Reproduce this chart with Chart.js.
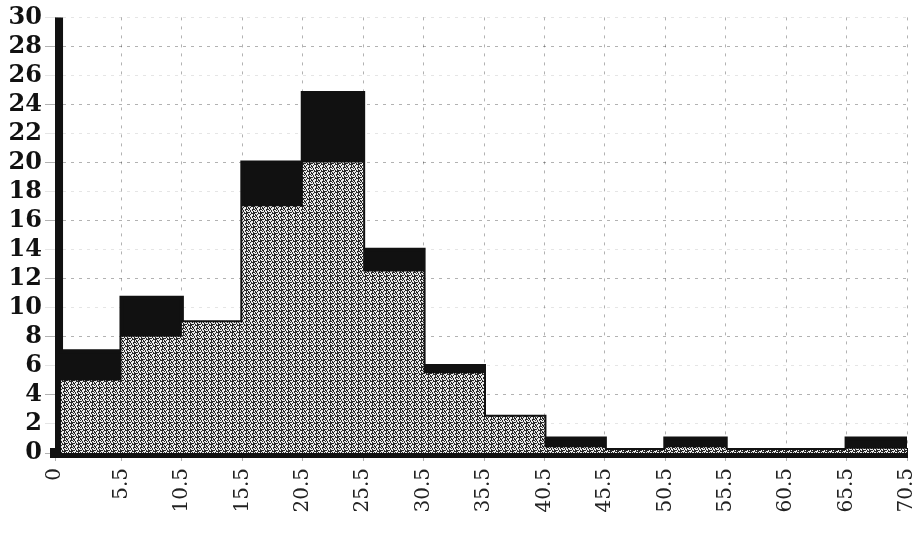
<!DOCTYPE html>
<html>
<head>
<meta charset="utf-8">
<script src="https://cdn.jsdelivr.net/npm/chart.js@4/dist/chart.umd.min.js"></script>
<style>
  html, body { margin: 0; padding: 0; background: #fff; }
  #wrap { width: 916px; height: 541px; }
</style>
</head>
<body>
<div id="wrap"><canvas id="histChart"></canvas></div>
<script>
// class edges of the histogram (x axis)
const binEdges = [0, 0.5, 5.5, 10.5, 15.5, 20.5, 25.5, 30.5, 35.5, 40.5, 45.5, 50.5, 55.5, 60.5, 65.5, 70.5];

// counts per class, black histogram
const darkCounts = [30, 7, 10.7, 9, 20, 24.8, 14, 6, 2.5, 1, 0, 1, 0, 0, 1];

// counts per class, stippled histogram drawn over it
const greyCounts = [0, 5, 8, 9, 17, 20, 12.5, 5.5, 2.5, 0.4, 0.2, 0.4, 0.2, 0.2, 0.3];

// tick labels
const xTickValues = [0, 5.5, 10.5, 15.5, 20.5, 25.5, 30.5, 35.5, 40.5, 45.5, 50.5, 55.5, 60.5, 65.5, 70.5];
const xTickLabels = ["0", "5.5", "10.5", "15.5", "20.5", "25.5", "30.5", "35.5", "40.5", "45.5", "50.5", "55.5", "60.5", "65.5", "70.5"];
const yTickValues = [0, 2, 4, 6, 8, 10, 12, 14, 16, 18, 20, 22, 24, 26, 28, 30];

// turn class counts into points for a stepped area
function stepPoints(counts) {
  const pts = [{ x: binEdges[0], y: 0 }];
  counts.forEach((c, i) => pts.push({ x: binEdges[i], y: c }));
  const last = binEdges[binEdges.length - 1];
  pts.push({ x: last, y: counts[counts.length - 1] });
  pts.push({ x: last, y: 0 });
  return pts;
}

// printed stipple texture (fixed dither, no randomness)
function stipple() {
  const c = document.createElement("canvas");
  c.width = 7; c.height = 7;
  const g = c.getContext("2d");
  const img = g.createImageData(7, 7);
  for (let j = 0; j < 7; j++) {
    for (let i = 0; i < 7; i++) {
      const dark = ((i * 3 + j * 5 + ((i * j) % 4)) % 7) < 3;
      const v = dark ? 40 : 235;
      const k = (j * 7 + i) * 4;
      img.data[k] = v; img.data[k + 1] = v; img.data[k + 2] = v; img.data[k + 3] = 255;
    }
  }
  g.putImageData(img, 0, 0);
  return g.createPattern(c, "repeat");
}

const serif = "'DejaVu Serif', 'Liberation Serif', serif";

const config = {
  type: "line",
  data: {
    datasets: [
      {
        label: "stippled",
        data: stepPoints(greyCounts),
        stepped: true,
        fill: "origin",
        backgroundColor: stipple(),
        borderColor: "rgba(0,0,0,0)",
        borderWidth: 0,
        pointRadius: 0,
        order: 0,
      },
      {
        label: "black",
        data: stepPoints(darkCounts),
        stepped: true,
        fill: "origin",
        backgroundColor: "#111",
        borderColor: "#111",
        borderWidth: 4,
        pointRadius: 0,
        order: 1,
      },
    ],
  },
  options: {
    responsive: true,
    maintainAspectRatio: false,
    animation: false,
    layout: { padding: { top: 0, right: 9, bottom: 0, left: 0 } },
    plugins: {
      legend: { display: false },
      tooltip: { enabled: false },
    },
    scales: {
      x: {
        type: "linear",
        min: 0,
        max: 70.5,
        afterBuildTicks: (scale) => {
          scale.ticks = xTickValues.map((v) => ({ value: v }));
        },
        afterFit: (scale) => {
          scale.height = 88;
          scale.paddingRight = 0; // let the last class reach the right edge
        },
        ticks: {
          autoSkip: false,
          minRotation: 90,
          maxRotation: 90,
          padding: 7,
          color: "#222",
          font: { family: serif, size: 20 },
          callback: (v) => xTickLabels[xTickValues.indexOf(v)],
        },
        grid: {
          color: "rgba(0,0,0,0.3)",
          lineWidth: 1,
          tickLength: 8,
        },
        border: { display: true, color: "#111", width: 10, dash: [3, 6] },
      },
      y: {
        min: 0,
        max: 30,
        afterBuildTicks: (scale) => {
          scale.ticks = yTickValues.map((v) => ({ value: v }));
        },
        afterFit: (scale) => { scale.width = 55; },
        ticks: {
          autoSkip: false,
          padding: 3,
          color: "#111",
          font: { family: serif, size: 24, weight: "bold" },
        },
        grid: {
          color: (ctx) => (ctx.tick && ctx.tick.value % 4 === 0 ? "rgba(0,0,0,0.3)" : "rgba(0,0,0,0.1)"),
          lineWidth: 1,
          tickLength: 10,
        },
        border: { display: false, dash: [3, 5] },
      },
    },
  },
};

const ctx = document.getElementById("histChart").getContext("2d");
new Chart(ctx, config);
</script>
</body>
</html>
